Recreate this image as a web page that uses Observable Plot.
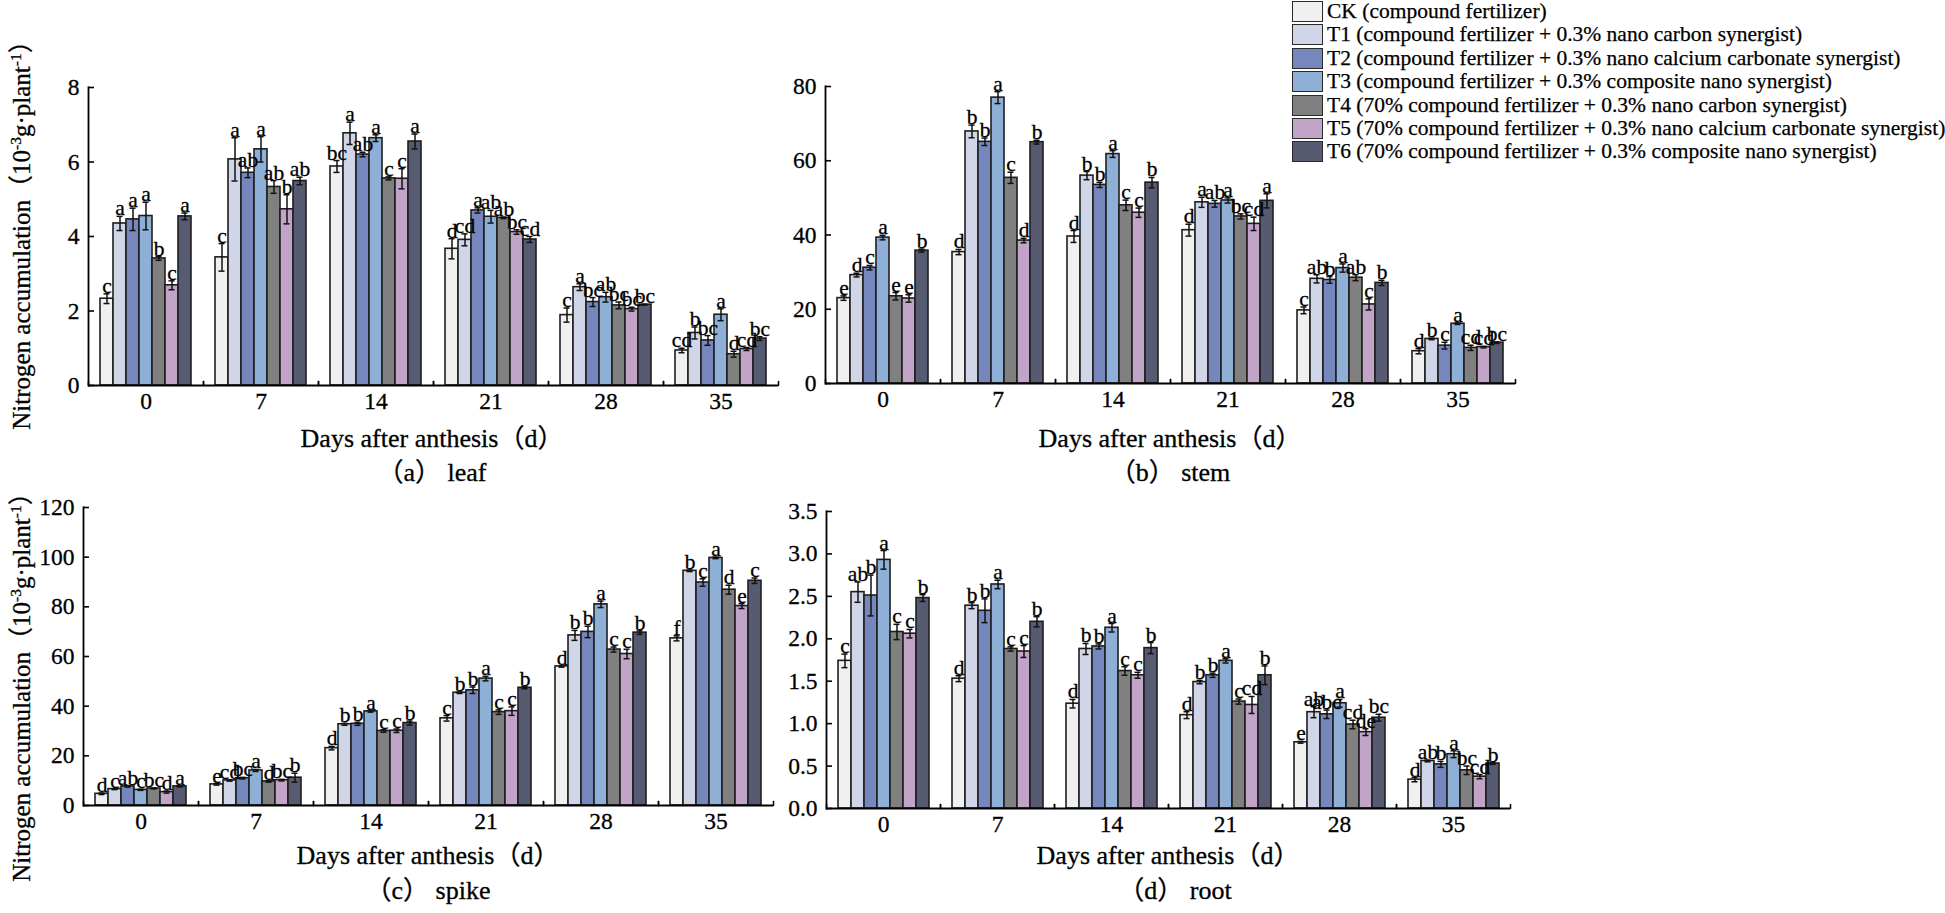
<!DOCTYPE html>
<html><head><meta charset="utf-8">
<script src="https://cdn.jsdelivr.net/npm/d3@7"></script>
<script src="https://cdn.jsdelivr.net/npm/@observablehq/plot@0.6"></script>
<style>
body{margin:0;background:#fff;}
#root{position:relative;width:1945px;height:913px;overflow:hidden;color:#000;background:#fff;}
.panel{position:absolute;}
.panel svg text{stroke:#000;stroke-width:0.3px;}
.xt{position:absolute;transform:translate(-50%,-50%);white-space:pre;font-size:26px;line-height:1;-webkit-text-stroke:0.3px #000;}
.yt{position:absolute;transform:translate(-50%,-50%) rotate(-90deg);white-space:nowrap;font-size:25px;line-height:1;-webkit-text-stroke:0.3px #000;}
.yt sup{font-size:0.62em;vertical-align:0.55em;line-height:0;}
.legrow{position:absolute;left:1292px;height:23px;display:flex;align-items:center;white-space:nowrap;font-size:21.5px;-webkit-text-stroke:0.25px #000;}
.sw{display:inline-block;width:31px;height:21px;box-sizing:border-box;border:1.5px solid #2a2a2a;margin-right:4px;}
</style></head>
<body>
<div id="root"></div>
<script>
const days = [0, 7, 14, 21, 28, 35];
const trtKeys = ["CK", "T1", "T2", "T3", "T4", "T5", "T6"];
const trtLabels = [
  "CK (compound fertilizer)",
  "T1 (compound fertilizer + 0.3% nano carbon synergist)",
  "T2 (compound fertilizer + 0.3% nano calcium carbonate synergist)",
  "T3 (compound fertilizer + 0.3% composite nano synergist)",
  "T4 (70% compound fertilizer + 0.3% nano carbon synergist)",
  "T5 (70% compound fertilizer + 0.3% nano calcium carbonate synergist)",
  "T6 (70% compound fertilizer + 0.3% composite nano synergist)"
];
const trtColors = ["#f0f0f0", "#d0d6e8", "#7687bd", "#8fb0d6", "#808080", "#c2a4c8", "#565b72"];

// rows = treatments (CK..T6), columns = days (0..35)
const leafMean = [
  [2.33, 3.44, 5.88, 3.67, 1.89, 0.94],
  [4.35, 6.07, 6.77, 3.91, 2.64, 1.41],
  [4.46, 5.71, 6.20, 4.70, 2.24, 1.21],
  [4.55, 6.34, 6.64, 4.53, 2.37, 1.90],
  [3.41, 5.33, 5.56, 4.50, 2.15, 0.84],
  [2.69, 4.73, 5.55, 4.12, 2.05, 0.98],
  [4.54, 5.49, 6.55, 3.92, 2.17, 1.26]
];
const leafErr = [
  [0.13, 0.37, 0.16, 0.27, 0.19, 0.06],
  [0.19, 0.58, 0.30, 0.16, 0.09, 0.16],
  [0.30, 0.13, 0.06, 0.07, 0.12, 0.13],
  [0.37, 0.34, 0.09, 0.17, 0.13, 0.16],
  [0.05, 0.17, 0.04, 0.02, 0.09, 0.08],
  [0.12, 0.39, 0.27, 0.06, 0.05, 0.04],
  [0.09, 0.10, 0.20, 0.08, 0.01, 0.05]
];
const leafLetters = [
  ["c", "c", "bc", "d", "c", "cd"],
  ["a", "a", "a", "cd", "a", "b"],
  ["a", "ab", "ab", "a", "bc", "bc"],
  ["a", "a", "a", "ab", "ab", "a"],
  ["b", "ab", "c", "ab", "bc", "d"],
  ["c", "b", "c", "bc", "bc", "cd"],
  ["a", "ab", "a", "cd", "bc", "bc"]
];

const stemMean = [
  [23.0, 35.4, 39.6, 41.3, 19.7, 8.7],
  [29.2, 67.9, 56.0, 48.8, 28.2, 12.0],
  [31.2, 65.1, 53.5, 48.4, 27.9, 10.2],
  [39.3, 77.0, 61.8, 49.3, 31.1, 16.1],
  [23.5, 55.4, 48.0, 45.0, 28.5, 9.6],
  [22.9, 38.5, 46.0, 43.0, 21.3, 9.8],
  [35.8, 65.0, 54.1, 49.2, 27.1, 11.0]
];
const stemErr = [
  [0.6, 0.7, 1.6, 1.6, 0.9, 0.7],
  [0.5, 1.7, 1.1, 1.35, 1.1, 0.2],
  [0.6, 1.0, 0.7, 0.9, 0.9, 0.9],
  [0.6, 1.6, 0.9, 0.7, 1.1, 0.2],
  [1.0, 1.5, 1.4, 0.7, 0.8, 0.7],
  [1.0, 0.6, 1.25, 1.8, 1.5, 0.2],
  [0.4, 0.5, 1.4, 1.9, 0.7, 0.2]
];
const stemLetters = [
  ["e", "d", "d", "d", "c", "d"],
  ["d", "b", "b", "a", "ab", "b"],
  ["c", "b", "b", "ab", "b", "c"],
  ["a", "a", "a", "a", "a", "a"],
  ["e", "c", "c", "bc", "ab", "cd"],
  ["e", "d", "c", "cd", "c", "cd"],
  ["b", "b", "b", "a", "b", "bc"]
];

const spikeMean = [
  [4.7, 8.5, 23.1, 35.1, 56.0, 67.3],
  [6.6, 10.1, 32.7, 45.4, 68.5, 94.5],
  [7.7, 11.0, 32.9, 46.4, 69.9, 89.8],
  [6.3, 14.1, 37.9, 51.1, 81.0, 99.7],
  [6.85, 9.7, 30.0, 37.6, 62.8, 86.9],
  [5.4, 10.2, 30.1, 38.0, 61.0, 80.3],
  [7.7, 11.2, 33.2, 47.4, 69.6, 90.5]
];
const spikeErr = [
  [0.3, 0.3, 0.7, 1.1, 0.3, 1.0],
  [0.2, 0.3, 0.4, 0.3, 2.0, 0.3],
  [0.3, 0.3, 0.6, 1.3, 2.3, 1.5],
  [0.2, 0.4, 0.3, 0.9, 1.3, 0.3],
  [0.2, 0.3, 0.5, 0.9, 1.0, 1.8],
  [0.4, 0.3, 0.7, 1.7, 1.9, 1.0],
  [0.2, 1.8, 0.8, 0.4, 0.7, 1.1]
];
const spikeLetters = [
  ["d", "e", "d", "c", "d", "f"],
  ["c", "cd", "b", "b", "b", "b"],
  ["ab", "bc", "b", "b", "b", "c"],
  ["c", "a", "a", "a", "a", "a"],
  ["bc", "d", "c", "c", "c", "d"],
  ["d", "bc", "c", "c", "c", "e"],
  ["a", "b", "b", "b", "b", "c"]
];

const rootMean = [
  [1.74, 1.53, 1.235, 1.10, 0.78, 0.34],
  [2.55, 2.39, 1.88, 1.49, 1.135, 0.56],
  [2.51, 2.33, 1.91, 1.57, 1.11, 0.52],
  [2.93, 2.64, 2.13, 1.74, 1.24, 0.64],
  [2.08, 1.88, 1.62, 1.26, 0.99, 0.45],
  [2.06, 1.85, 1.57, 1.22, 0.90, 0.375],
  [2.48, 2.20, 1.89, 1.57, 1.07, 0.53]
];
const rootErr = [
  [0.08, 0.035, 0.05, 0.04, 0.01, 0.025],
  [0.12, 0.035, 0.065, 0.02, 0.065, 0.01],
  [0.24, 0.14, 0.03, 0.025, 0.05, 0.035],
  [0.11, 0.05, 0.05, 0.025, 0.045, 0.04],
  [0.09, 0.025, 0.05, 0.03, 0.05, 0.05],
  [0.05, 0.07, 0.035, 0.1, 0.04, 0.025],
  [0.04, 0.06, 0.065, 0.11, 0.04, 0.01]
];
const rootLetters = [
  ["c", "d", "d", "d", "e", "d"],
  ["ab", "b", "b", "b", "ab", "ab"],
  ["b", "b", "b", "b", "abc", "b"],
  ["a", "a", "a", "a", "a", "a"],
  ["c", "c", "c", "c", "cd", "bc"],
  ["c", "c", "c", "cd", "de", "cd"],
  ["b", "b", "b", "b", "bc", "b"]
];

const leafTicks = [0, 2, 4, 6, 8];
const stemTicks = [0, 20, 40, 60, 80];
const spikeTicks = [0, 20, 40, 60, 80, 100, 120];
const rootTicks = [0, 0.5, 1.0, 1.5, 2.0, 2.5, 3.0, 3.5];

// find an installed Times-like serif face
function fontAvailable(name) {
  const ctx = document.createElement("canvas").getContext("2d");
  const s = "Days after anthesis 0123456789 abcdefghij WMQ";
  for (const base of ["monospace", "sans-serif"]) {
    ctx.font = `40px ${base}`;
    const w0 = ctx.measureText(s).width;
    ctx.font = `40px "${name}", ${base}`;
    const w1 = ctx.measureText(s).width;
    if (Math.abs(w0 - w1) > 0.5) return true;
  }
  return false;
}
const serifCandidates = ["Liberation Serif", "Times New Roman", "Tinos", "Nimbus Roman", "Nimbus Roman No9 L",
  "FreeSerif", "DejaVu Serif", "Noto Serif", "Noto Serif CJK SC", "Source Han Serif SC"];
const serifFace = serifCandidates.find(fontAvailable);
const FONT = (serifFace ? `"${serifFace}", ` : "") + `serif, "Noto Sans CJK SC"`;

const root = document.getElementById("root");
root.style.fontFamily = FONT;

// short upward tick drawn at the facet's bottom edges (group separators on the x axis)
const tickUp = {draw(context, l) { context.moveTo(0, 0); context.lineTo(0, -l); }};

const panels = [
  {mean: leafMean, err: leafErr, letters: leafLetters, ticks: leafTicks, max: 8, fmt: d => String(d),
   left: 0, top: 0, w: 800, h: 430, mL: 86, mR: 21, mT: 87, mB: 45,
   xt: [432, 439], cap: [432, 473], capText: "（a） leaf", yt: [21, 229]},
  {mean: stemMean, err: stemErr, letters: stemLetters, ticks: stemTicks, max: 80, fmt: d => String(d),
   left: 740, top: 0, w: 790, h: 430, mL: 82, mR: 13, mT: 86, mB: 47,
   xt: [1170, 439], cap: [1170, 473], capText: "（b） stem", yt: null},
  {mean: spikeMean, err: spikeErr, letters: spikeLetters, ticks: spikeTicks, max: 120, fmt: d => String(d),
   left: 0, top: 460, w: 800, h: 380, mL: 83, mR: 27, mT: 47, mB: 35,
   xt: [428, 856], cap: [428, 891], capText: "（c） spike", yt: [21, 681]},
  {mean: rootMean, err: rootErr, letters: rootLetters, ticks: rootTicks, max: 3.5, fmt: d => d.toFixed(1),
   left: 740, top: 460, w: 790, h: 380, mL: 84, mR: 18, mT: 51, mB: 32,
   xt: [1168, 856], cap: [1175, 891], capText: "（d） root", yt: null}
];

for (const p of panels) {
  const rows = [];
  trtKeys.forEach((t, i) => days.forEach((d, j) =>
    rows.push({day: d, trt: t, v: p.mean[i][j], e: p.err[i][j], lab: p.letters[i][j]})));
  const chart = Plot.plot({
    width: p.w, height: p.h,
    marginLeft: p.mL, marginRight: p.mR, marginTop: p.mT, marginBottom: p.mB,
    style: {fontFamily: FONT, fontSize: "22px", color: "#000", background: "transparent", overflow: "visible"},
    fx: {domain: days, padding: 0, label: null},
    x: {domain: trtKeys, paddingInner: 0, paddingOuter: 0.62, axis: null},
    y: {domain: [0, p.max]},
    color: {domain: trtKeys, range: trtColors},
    marks: [
      Plot.barY(rows, {fx: "day", x: "trt", y: "v", fill: "trt", stroke: "#1e1e1e", strokeWidth: 1.6}),
      Plot.ruleX(rows, {fx: "day", x: "trt", y1: d => d.v - d.e, y2: d => d.v + d.e, stroke: "#111", strokeWidth: 1.5}),
      Plot.tickY(rows, {fx: "day", x: "trt", y: d => d.v + d.e, stroke: "#111", strokeWidth: 1.5, insetLeft: 3.5, insetRight: 3.5}),
      Plot.tickY(rows, {fx: "day", x: "trt", y: d => d.v - d.e, stroke: "#111", strokeWidth: 1.5, insetLeft: 3.5, insetRight: 3.5}),
      Plot.text(rows, {fx: "day", x: "trt", y: d => d.v + d.e, text: "lab", lineAnchor: "bottom", dy: -1, fontSize: 21.5, fill: "#000"}),
      Plot.ruleY([0], {stroke: "#000", strokeWidth: 2.2}),
      Plot.vector([0], {frameAnchor: "bottom-left", length: 4, rotate: 0, anchor: "start", shape: tickUp, stroke: "#000", strokeWidth: 1.5}),
      Plot.vector([0], {frameAnchor: "bottom-right", length: 4, rotate: 0, anchor: "start", shape: tickUp, stroke: "#000", strokeWidth: 1.5}),
      Plot.frame({anchor: "left", facetAnchor: "left", stroke: "#000", strokeWidth: 1.8}),
      Plot.axisY(p.ticks, {tickFormat: p.fmt, tickSize: -6, tickPadding: 15, label: null, fontSize: 23.5, strokeWidth: 1.6}),
      Plot.axisFx({anchor: "bottom", tickSize: 0, tickPadding: 7, label: null, fontSize: 23.5})
    ]
  });
  const wrap = document.createElement("div");
  wrap.className = "panel";
  wrap.style.left = p.left + "px";
  wrap.style.top = p.top + "px";
  wrap.appendChild(chart);
  root.appendChild(wrap);

  const xt = document.createElement("div");
  xt.className = "xt";
  xt.style.left = p.xt[0] + "px"; xt.style.top = p.xt[1] + "px";
  xt.textContent = "Days after anthesis（d）";
  root.appendChild(xt);

  const cap = document.createElement("div");
  cap.className = "xt";
  cap.style.left = p.cap[0] + "px"; cap.style.top = p.cap[1] + "px";
  cap.textContent = p.capText;
  root.appendChild(cap);

  if (p.yt) {
    const yt = document.createElement("div");
    yt.className = "yt";
    yt.style.left = p.yt[0] + "px"; yt.style.top = p.yt[1] + "px";
    yt.innerHTML = "Nitrogen accumulation（10<sup>-3</sup>g·plant<sup>-1</sup>）";
    root.appendChild(yt);
  }
}

trtKeys.forEach((k, i) => {
  const row = document.createElement("div");
  row.className = "legrow";
  row.style.top = (i * 23.4) + "px";
  const sw = document.createElement("span");
  sw.className = "sw";
  sw.style.background = trtColors[i];
  row.appendChild(sw);
  const tx = document.createElement("span");
  tx.textContent = trtLabels[i];
  row.appendChild(tx);
  root.appendChild(row);
});
</script>
</body></html>
